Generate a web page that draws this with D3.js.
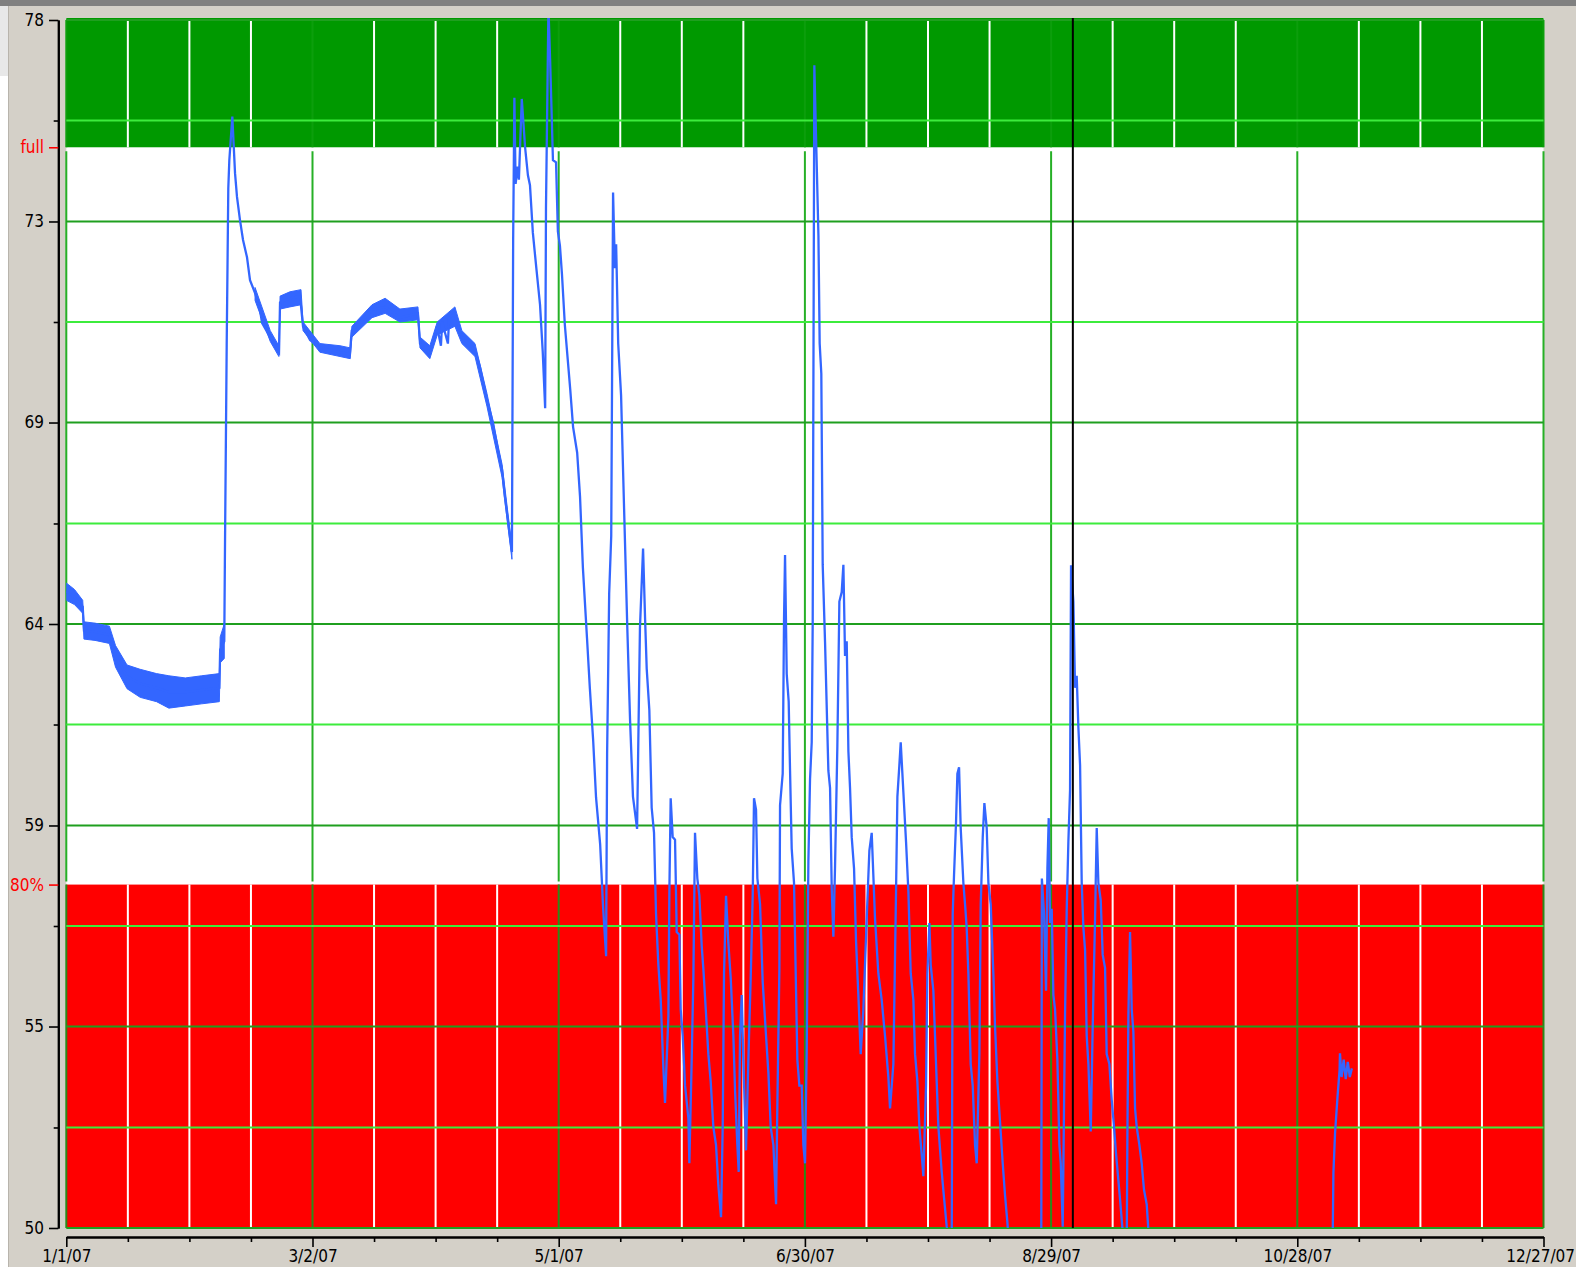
<!DOCTYPE html>
<html>
<head>
<meta charset="utf-8">
<script src="https://cdn.jsdelivr.net/npm/d3@7"></script>
<style>
  body { margin: 0; background: #d4d0c8; overflow: hidden; }
</style>
</head>
<body>
<div id="chart"></div>
<script>
// level readings, 2007; day = days since 1/1/07
var xMajorDates = ['2007-01-01', '2007-03-02', '2007-05-01', '2007-06-30', '2007-08-29', '2007-10-28', '2007-12-27'];
var xMinorDates = ['2007-01-16', '2007-01-31', '2007-02-15', '2007-03-17', '2007-04-01', '2007-04-16',
  '2007-05-16', '2007-05-31', '2007-06-15', '2007-07-15', '2007-07-30', '2007-08-14',
  '2007-09-13', '2007-09-28', '2007-10-13', '2007-11-12', '2007-11-27', '2007-12-12'];

var yMajorTicks = [78, 73.33, 68.67, 64, 59.33, 54.67, 50];
var yMajorLabels = ['78', '73', '69', '64', '59', '55', '50'];
var yMinorTicks = [75.67, 71, 66.33, 61.67, 57, 52.33];

var fullLevel = 75.05;
var eightyLevel = 57.96;
var cursorDay = 245.3;

// hourly noise envelope: [day, low, high]
var janFebBand = [
  [0, 64.55, 64.95], [2, 64.45, 64.8], [4, 64.25, 64.55], [4.3, 63.65, 64.05], [7, 63.62, 64.02],
  [10.5, 63.55, 63.95], [12, 63.0, 63.5], [14.8, 62.5, 63.05], [18, 62.3, 62.95], [22, 62.2, 62.85],
  [25, 62.05, 62.8], [29, 62.1, 62.75], [33, 62.15, 62.8], [37.3, 62.2, 62.85], [37.5, 63.1, 63.7],
  [38.5, 63.2, 64.0]
];

var marAprBand = [
  [46, 71.5, 71.8], [49.7, 70.55, 70.8], [51.8, 70.2, 70.45], [52.1, 71.3, 71.6], [54.5, 71.35, 71.7],
  [57.2, 71.4, 71.75], [57.7, 70.8, 71.0], [61.8, 70.3, 70.5], [66.7, 70.2, 70.45], [69.2, 70.15, 70.4],
  [69.6, 70.65, 70.9], [74.5, 71.1, 71.4], [77.7, 71.2, 71.55], [81.3, 71.0, 71.3], [85.7, 71.05, 71.35],
  [86.2, 70.4, 70.65], [88.6, 70.15, 70.45], [90.4, 70.7, 71.0], [94.7, 70.9, 71.35], [96.4, 70.5, 70.8],
  [99.6, 70.2, 70.5], [102.5, 69.05, 69.35], [106.2, 67.4, 67.7], [108.6, 65.5, 65.8]
];

// [day, level]; null = no reading
var levelTrace = [
  [0, 64.75], [2, 64.62], [4, 64.4], [4.3, 63.85], [7, 63.82], [10.5, 63.75], [12, 63.25], [14.8, 62.78],
  [18, 62.62], [22, 62.52], [25, 62.42], [29, 62.42], [33, 62.47], [37.3, 62.52], [37.5, 63.4], [38.5, 63.6],
  [38.68, 65.88], [39.09, 70.47], [39.48, 74.1], [39.73, 74.75], [40.46, 75.76], [41.12, 74.45],
  [41.6, 73.9], [42.33, 73.36], [43.07, 72.9], [44.04, 72.5], [44.77, 71.97], [46.0, 71.67], [47.2, 71.28],
  [47.7, 70.98], [49.66, 70.65], [51.84, 70.3], [52.09, 71.45], [54.5, 71.55], [56.96, 71.6], [57.69, 70.9],
  [59.4, 70.58], [61.83, 70.4], [66.7, 70.3], [69.1, 70.25], [69.56, 70.8], [72.8, 71.1], [74.5, 71.28],
  [77.67, 71.35], [81.3, 71.1], [85.7, 71.2], [86.2, 70.5], [88.6, 70.27], [90.35, 70.9], [91.3, 70.45],
  [91.6, 71.0], [93.0, 70.5], [93.3, 71.1], [94.7, 71.2], [96.4, 70.65], [99.6, 70.35], [100.8, 69.96],
  [102.5, 69.2], [104.0, 68.66], [105.2, 68.03], [106.2, 67.57], [106.9, 66.94], [107.7, 66.34], [108.6, 65.67],
  [108.9, 72.9], [109.2, 76.2], [109.5, 74.2], [110.0, 74.6], [110.3, 74.3], [111.0, 76.17], [111.8, 75.06],
  [112.5, 74.4], [113.0, 74.17], [113.7, 73.07], [114.6, 72.2], [115.45, 71.4], [116.1, 70.33], [116.7, 69.0],
  [116.9, 73.66], [117.5, 78.3], [117.9, 77.1], [118.6, 74.75], [119.35, 74.7], [119.8, 73.1], [120.3, 72.77],
  [120.8, 72.1], [121.5, 70.93], [122.8, 69.45], [123.5, 68.57], [124.5, 67.97], [125.2, 66.95], [125.9, 65.3],
  [126.9, 63.67], [127.6, 62.5], [128.4, 61.3], [129.1, 59.98], [130.1, 58.9], [130.8, 57.46], [131.55, 56.3],
  [131.8, 61.0], [132.3, 64.7], [132.8, 66.04], [133.25, 74.0], [133.7, 72.25], [134.0, 72.8], [134.5, 70.5],
  [135.2, 69.3], [135.9, 66.8], [136.7, 63.97], [137.4, 61.75], [138.1, 60.0], [139.1, 59.25], [139.8, 63.9],
  [140.56, 65.75], [141.04, 64.16], [141.45, 62.96], [142.09, 62.0], [142.66, 59.74], [143.23, 59.16],
  [143.72, 57.28], [144.29, 56.1], [144.86, 55.3], [145.51, 53.7], [145.91, 52.9], [146.73, 54.9],
  [146.97, 57.8], [147.29, 59.96], [147.78, 59.06], [148.35, 59.0], [148.76, 56.86], [149.41, 56.8],
  [149.73, 55.07], [150.22, 54.45], [150.79, 53.3], [151.6, 52.55], [151.84, 51.5], [152.41, 53.9],
  [152.82, 55.8], [153.22, 59.16], [153.79, 58.1], [154.28, 57.7], [154.85, 56.54], [155.26, 56.0],
  [155.9, 54.97], [156.47, 54.03], [157.04, 53.4], [157.69, 52.34], [158.34, 51.92], [158.91, 50.98],
  [159.56, 50.25], [159.97, 52.34], [160.29, 55.9], [160.78, 57.7], [161.35, 56.6], [161.92, 55.8],
  [162.57, 54.45], [162.97, 53.2], [163.54, 51.92], [163.87, 51.3], [164.19, 54.45], [164.6, 55.4],
  [165.0, 53.9], [165.65, 51.8], [166.22, 53.9], [166.79, 55.8], [167.28, 57.7], [167.6, 59.96],
  [168.09, 59.7], [168.42, 58.1], [169.07, 57.5], [169.72, 55.7], [170.53, 54.45], [171.1, 53.6],
  [171.67, 52.34], [172.32, 51.92], [172.97, 50.55], [173.29, 52.87], [173.78, 56.0], [173.94, 59.8],
  [174.59, 60.53], [174.92, 64.16], [175.16, 65.6], [175.57, 62.84], [176.05, 62.2], [176.38, 60.6],
  [176.78, 58.8], [177.35, 58.0], [177.84, 55.5], [178.16, 53.9], [178.65, 53.3], [179.22, 53.3],
  [179.63, 51.92], [180.03, 51.5], [180.44, 54.1], [180.85, 58.5], [181.25, 60.4], [181.66, 61.26],
  [181.9, 64.0], [182.3, 76.95], [182.8, 74.97], [183.3, 73.0], [183.6, 70.5], [184.0, 69.8], [184.34, 65.37],
  [184.91, 63.58], [185.72, 60.6], [186.13, 60.2], [186.53, 57.9], [186.94, 56.75], [187.35, 58.4],
  [187.91, 61.17], [188.4, 64.52], [188.97, 64.74], [189.38, 65.37], [189.78, 63.26], [190.19, 63.6],
  [190.6, 61.05], [191.0, 60.2], [191.41, 59.06], [191.98, 58.33], [192.46, 56.65], [193.03, 55.4],
  [193.6, 54.03], [194.25, 55.07], [195.06, 57.17], [195.71, 58.75], [196.28, 59.16], [197.09, 57.17],
  [197.9, 55.9], [198.72, 55.28], [199.53, 54.45], [200.34, 53.5], [200.75, 52.77], [201.56, 53.8],
  [202.21, 57.8], [202.54, 60.0], [203.02, 60.73], [203.35, 61.26], [204.0, 60.1], [204.65, 58.95],
  [205.22, 57.8], [205.79, 55.9], [206.44, 55.28], [206.84, 54.03], [207.41, 53.4], [207.9, 52.34],
  [208.47, 51.7], [208.87, 51.2], [209.52, 53.3], [209.85, 55.9], [210.34, 57.07], [210.66, 56.1],
  [211.31, 55.5], [211.96, 53.8], [212.53, 52.34], [213.34, 51.3], [213.91, 50.7], [214.56, 50.03],
  [215.37, 49.6], [215.78, 49.6], [216.02, 57.28], [216.35, 58.2], [216.83, 59.4], [217.16, 60.53],
  [217.57, 60.68], [217.97, 59.27], [218.62, 58.0], [219.03, 57.5], [219.43, 56.96], [219.84, 55.9],
  [220.41, 53.8], [220.9, 53.3], [221.47, 51.92], [221.87, 51.5], [222.52, 54.03], [222.85, 57.5],
  [223.34, 59.06], [223.74, 59.85], [224.31, 59.27], [224.72, 58.0], [225.28, 57.5], [225.93, 55.9],
  [226.34, 54.66], [226.91, 53.4], [227.56, 52.45], [228.21, 51.5], [228.77, 50.76], [229.35, 50.13],
  [229.8, 49.5], [237.6, 49.5], [237.75, 58.1], [238.28, 57.28], [238.77, 55.5], [239.1, 58.33],
  [239.42, 59.5], [239.75, 57.07], [240.15, 57.4], [240.56, 55.4], [240.96, 55.07], [241.53, 53.9],
  [242.02, 51.92], [242.35, 51.5], [242.83, 50.03], [243.4, 54.97], [243.81, 57.4], [244.21, 58.95],
  [244.62, 60.16], [244.86, 65.36], [245.43, 64.52], [245.84, 62.52], [246.24, 62.8], [246.65, 61.6],
  [247.06, 60.73], [247.46, 58.0], [247.87, 56.96], [248.28, 56.44], [248.68, 54.45], [249.09, 53.8],
  [249.66, 52.24], [250.14, 54.66], [250.71, 57.17], [251.12, 59.27], [251.52, 58.0], [252.09, 57.6],
  [252.58, 56.33], [253.15, 56.03], [253.55, 54.03], [254.2, 53.8], [254.77, 52.97], [255.34, 52.34],
  [255.83, 51.72], [256.4, 51.1], [256.8, 50.67], [257.46, 49.9], [258.43, 49.6], [258.6, 52.2],
  [258.84, 54.97], [259.24, 56.86], [259.65, 55.07], [260.05, 54.55], [260.46, 52.77], [260.87, 52.34],
  [261.52, 51.92], [262.08, 51.5], [262.65, 50.88], [263.3, 50.55], [263.95, 49.6],
  [264, null],
  [308.6, 49.6], [308.8, 51.27], [309.2, 52.2], [309.8, 53.04], [310.3, 53.66], [310.4, 54.05],
  [310.8, 53.5], [311.3, 53.9], [311.8, 53.45], [312.3, 53.85], [312.8, 53.5], [313.3, 53.7]
];

var W = 1576, H = 1267;
var plotTop = 18, plotLeft = 66.3, plotRight = 1543.5;
var FONT = '"DejaVu Sans Condensed", "Liberation Sans Narrow", "Liberation Sans", sans-serif';

var parseDay = d3.utcParse('%Y-%m-%d');
var yearStart = parseDay(xMajorDates[0]);

function _date (day) {
  return new Date(yearStart.getTime() + day * 864e5);
}

var x = d3.scaleUtc()
  .domain([yearStart, parseDay(xMajorDates[xMajorDates.length - 1])])
  .range([plotLeft, plotRight]);
var y = d3.scaleLinear().domain([50, 78]).range([1228, 20]);

var svg = d3.select('#chart').append('svg')
  .attr('width', W)
  .attr('height', H)
  .style('display', 'block');

_drawFrame(svg);
_drawPlot(svg);
_drawAxes(svg);

function _drawFrame (svg) {
  svg.append('rect').attr('x', 0).attr('y', 0).attr('width', W).attr('height', H).attr('fill', '#d4d0c8');
  svg.append('rect').attr('x', 0).attr('y', 0).attr('width', W).attr('height', 6).attr('fill', '#808080');
  svg.append('rect').attr('x', 0).attr('y', 6).attr('width', 8).attr('height', 70).attr('fill', '#e8e8e8');
  svg.append('rect').attr('x', 0).attr('y', 76).attr('width', 8).attr('height', H - 76).attr('fill', '#ffffff');
  svg.append('line')
    .attr('x1', 8.5).attr('x2', 8.5).attr('y1', 6).attr('y2', H)
    .attr('stroke', '#b8b4ac').attr('stroke-width', 1);
}

function _vLines (g, cls, dates, y1, y2, color) {
  g.selectAll('.' + cls)
    .data(dates)
    .enter()
    .append('line')
    .attr('class', cls)
    .attr('x1', function (d) { return x(parseDay(d)); })
    .attr('x2', function (d) { return x(parseDay(d)); })
    .attr('y1', y1)
    .attr('y2', y2)
    .attr('stroke', color)
    .attr('stroke-width', 2);
}

function _hLines (g, cls, values, color) {
  g.selectAll('.' + cls)
    .data(values)
    .enter()
    .append('line')
    .attr('class', cls)
    .attr('x1', plotLeft)
    .attr('x2', plotRight)
    .attr('y1', function (d) { return y(d); })
    .attr('y2', function (d) { return y(d); })
    .attr('stroke', color)
    .attr('stroke-width', 2);
}

function _drawPlot (svg) {
  var bottom = y(50);
  var fullY = y(fullLevel);
  var eightyY = y(eightyLevel);

  svg.append('clipPath').attr('id', 'plotClip')
    .append('rect')
    .attr('x', plotLeft).attr('y', plotTop)
    .attr('width', plotRight - plotLeft).attr('height', bottom - plotTop);

  var g = svg.append('g');

  g.append('rect')
    .attr('x', plotLeft).attr('y', plotTop)
    .attr('width', plotRight - plotLeft).attr('height', bottom - plotTop)
    .attr('fill', '#ffffff');

  // above full
  g.append('rect')
    .attr('x', plotLeft).attr('y', plotTop)
    .attr('width', plotRight - plotLeft).attr('height', fullY - plotTop)
    .attr('fill', '#009900');

  // below 80%
  g.append('rect')
    .attr('x', plotLeft).attr('y', eightyY)
    .attr('width', plotRight - plotLeft).attr('height', bottom - eightyY)
    .attr('fill', '#ff0000');

  _vLines(g, 'minorTop', xMinorDates, plotTop + 2, fullY, '#ffffff');
  _vLines(g, 'minorBot', xMinorDates, eightyY, bottom, '#ffffff');
  _vLines(g, 'majorTop', xMajorDates, plotTop + 2, fullY, '#0c9e0c');
  _vLines(g, 'majorMid', xMajorDates, fullY + 4, eightyY - 3, '#26b026');
  _vLines(g, 'majorBot', xMajorDates, eightyY, bottom, '#2a8a1a');

  _hLines(g, 'minorH', yMinorTicks, '#3cec3c');
  _hLines(g, 'majorH', yMajorTicks, '#1f9f1f');

  var data = svg.append('g').attr('clip-path', 'url(#plotClip)');

  var band = d3.area()
    .x(function (d) { return x(_date(d[0])); })
    .y0(function (d) { return y(d[1]); })
    .y1(function (d) { return y(d[2]); });

  data.selectAll('.noise')
    .data([janFebBand, marAprBand])
    .enter()
    .append('path')
    .attr('class', 'noise')
    .attr('d', band)
    .attr('fill', '#3366ff')
    .attr('stroke', '#3366ff')
    .attr('stroke-width', 1);

  var line = d3.line()
    .defined(function (d) { return d[1] !== null; })
    .x(function (d) { return x(_date(d[0])); })
    .y(function (d) { return y(d[1]); });

  data.append('path')
    .datum(levelTrace)
    .attr('d', line)
    .attr('fill', 'none')
    .attr('stroke', '#3366ff')
    .attr('stroke-width', 2.3)
    .attr('stroke-linejoin', 'miter');

  // cursor
  svg.append('line')
    .attr('x1', x(_date(cursorDay)))
    .attr('x2', x(_date(cursorDay)))
    .attr('y1', plotTop)
    .attr('y2', bottom)
    .attr('stroke', '#000000')
    .attr('stroke-width', 2);
}

function _styleAxis (axisG, color) {
  axisG.attr('font-family', FONT).attr('font-size', 17);
  axisG.selectAll('line').attr('stroke', color).attr('stroke-width', 1.6);
  axisG.selectAll('path.domain').attr('stroke', color).attr('stroke-width', 2);
  axisG.selectAll('text').attr('fill', color);
}

function _drawAxes (svg) {
  var yAxisX = 58.3;
  var xAxisY = 1237;

  var yMinor = svg.append('g')
    .attr('transform', 'translate(' + yAxisX + ',0)')
    .call(d3.axisLeft(y).tickValues(yMinorTicks).tickSize(4.6).tickSizeOuter(0).tickFormat(''));
  _styleAxis(yMinor, '#000000');

  var yMajor = svg.append('g')
    .attr('transform', 'translate(' + yAxisX + ',0)')
    .call(d3.axisLeft(y)
      .tickValues(yMajorTicks)
      .tickSize(9.3)
      .tickSizeOuter(0)
      .tickPadding(5)
      .tickFormat(function (d, i) { return yMajorLabels[i]; }));
  _styleAxis(yMajor, '#000000');

  var limits = svg.append('g')
    .attr('transform', 'translate(' + yAxisX + ',0)')
    .call(d3.axisLeft(y)
      .tickValues([fullLevel, eightyLevel])
      .tickSize(9.3)
      .tickPadding(5)
      .tickFormat(function (d, i) { return ['full', '80%'][i]; }));
  limits.select('path.domain').remove();
  _styleAxis(limits, '#ff0000');

  var xMinor = svg.append('g')
    .attr('transform', 'translate(0,' + xAxisY + ')')
    .call(d3.axisBottom(x)
      .tickValues(xMinorDates.map(parseDay))
      .tickSize(5)
      .tickSizeOuter(0)
      .tickFormat(''));
  _styleAxis(xMinor, '#000000');

  var xMajor = svg.append('g')
    .attr('transform', 'translate(0,' + xAxisY + ')')
    .call(d3.axisBottom(x)
      .tickValues(xMajorDates.map(parseDay))
      .tickSize(10)
      .tickSizeOuter(0)
      .tickPadding(3)
      .tickFormat(d3.utcFormat('%-m/%-d/%y')));
  _styleAxis(xMajor, '#000000');

  // keep the last date label inside the window
  xMajor.selectAll('text').each(function () {
    var box = this.getBBox();
    var tx = this.parentNode.transform.baseVal.consolidate().matrix.e;
    var over = tx + box.x + box.width - (W - 1);
    if (over > 0) d3.select(this).attr('x', -over);
  });
}
</script>
</body>
</html>
